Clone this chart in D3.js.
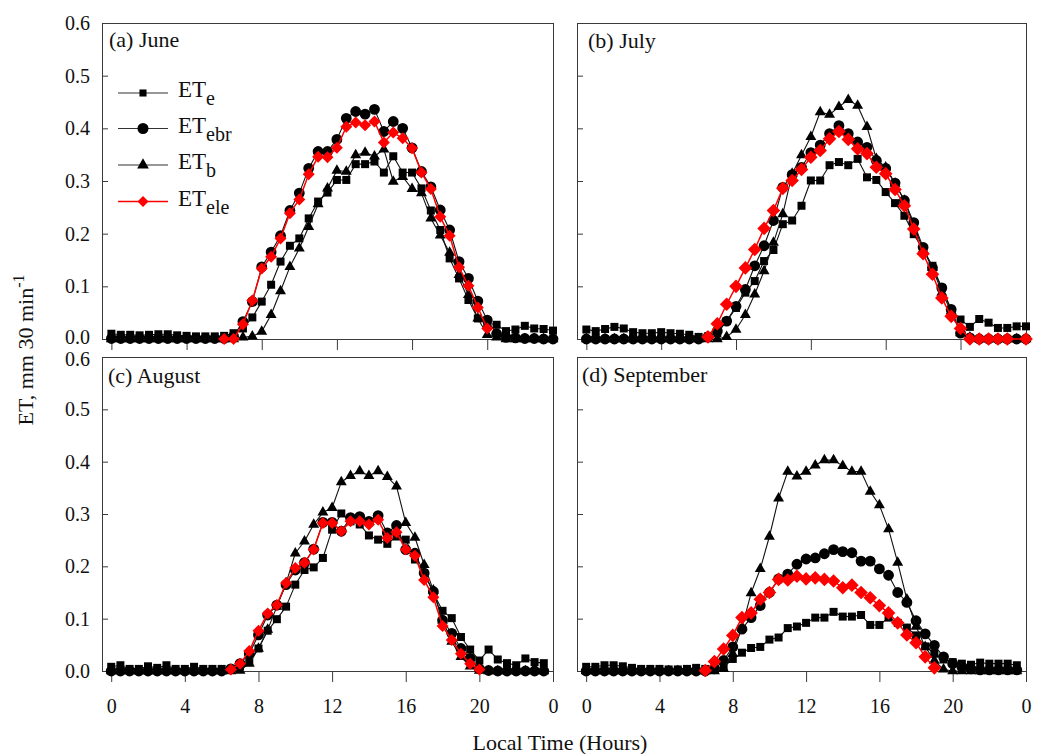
<!DOCTYPE html>
<html>
<head>
<meta charset="utf-8">
<script src="https://cdn.jsdelivr.net/npm/d3@7"></script>
<style>
  html, body { margin: 0; padding: 0; background: #fff; }
  svg { display: block; font-family: "Liberation Serif", "Times New Roman", serif; }
</style>
</head>
<body>
<svg id="chart" width="1037" height="754"></svg>
<script>
// Half-hourly time of day (hours)
const hours = [
  0, 0.5, 1, 1.5, 2, 2.5, 3, 3.5,
  4, 4.5, 5, 5.5, 6, 6.5, 7, 7.5,
  8, 8.5, 9, 9.5, 10, 10.5, 11, 11.5,
  12, 12.5, 13, 13.5, 14, 14.5, 15, 15.5,
  16, 16.5, 17, 17.5, 18, 18.5, 19, 19.5,
  20, 20.5, 21, 21.5, 22, 22.5, 23, 23.5
];

const xTickValues = [0, 4, 8, 12, 16, 20, 24];
const xTickLabels = ["0", "4", "8", "12", "16", "20", "0"];
const yTickValues = [0, 0.1, 0.2, 0.3, 0.4, 0.5, 0.6];

const seriesNames = ["ETe", "ETebr", "ETb", "ETele"];
const seriesSubs  = ["e", "ebr", "b", "ele"];

// June
const junETe = [
  0.010, 0.008, 0.008, 0.007, 0.008, 0.009, 0.009, 0.007,
  0.006, 0.005, 0.005, 0.005, 0.006, 0.011, 0.020, 0.041,
  0.071, 0.103, 0.147, 0.177, 0.191, 0.229, 0.261, 0.278,
  0.302, 0.302, 0.332, 0.332, 0.337, 0.316, 0.347, 0.316,
  0.316, 0.286, 0.244, 0.207, 0.153, 0.115, 0.074, 0.039,
  0.030, 0.027, 0.015, 0.018, 0.025, 0.020, 0.019, 0.016
];
const junETebr = [
  0.001, 0.001, 0.001, 0.001, 0.001, 0.001, 0.001, 0.001,
  0.001, 0.001, 0.001, 0.001, 0.001, 0.005, 0.033, 0.071,
  0.137, 0.165, 0.196, 0.244, 0.277, 0.324, 0.356, 0.356,
  0.379, 0.419, 0.432, 0.427, 0.436, 0.394, 0.413, 0.400,
  0.363, 0.318, 0.289, 0.245, 0.207, 0.147, 0.115, 0.072,
  0.036, 0.010, 0.003, 0.002, 0.001, 0.001, 0.000, 0.000
];
const junETb = [
  0, 0, 0, 0, 0, 0, 0, 0,
  0, 0, 0, 0, 0, 0, 0.003, 0.005,
  0.014, 0.046, 0.091, 0.137, 0.172, 0.213, 0.256, 0.286,
  0.320, 0.318, 0.349, 0.354, 0.347, 0.360, 0.299, 0.308,
  0.285, 0.277, 0.229, 0.197, 0.164, 0.122, 0.084, 0.039,
  0.008, 0.003, 0, 0, 0, 0, 0, 0
];
const junETele = [
  null, null, null, null, null, null, null, null,
  null, null, null, null, 0.000, 0.000, 0.028, 0.073,
  0.134, 0.156, 0.191, 0.239, 0.265, 0.313, 0.346, 0.345,
  0.363, 0.403, 0.411, 0.406, 0.413, 0.373, 0.392, 0.381,
  0.362, 0.316, 0.285, 0.232, 0.196, 0.136, 0.101, 0.060,
  0.020, null, null, null, null, null, null, null
];

// July
const julETe = [
  0.018, 0.015, 0.019, 0.023, 0.020, 0.013, 0.011, 0.011,
  0.013, 0.011, 0.010, 0.008, 0.004, 0.005, 0.011, 0.034,
  0.059, 0.088, 0.110, 0.148, 0.169, 0.218, 0.225, 0.253,
  0.301, 0.301, 0.330, 0.336, 0.330, 0.342, 0.307, 0.302,
  0.279, 0.258, 0.234, 0.199, 0.169, 0.139, 0.097, 0.056,
  0.037, 0.023, 0.038, 0.031, 0.021, 0.021, 0.024, 0.024
];
const julETebr = [
  0, 0, 0, 0, 0, 0, 0, 0,
  0, 0, 0, 0, 0, 0.004, 0.015, 0.034,
  0.062, 0.094, 0.139, 0.177, 0.225, 0.288, 0.312, 0.326,
  0.354, 0.368, 0.390, 0.405, 0.390, 0.374, 0.364, 0.339,
  0.324, 0.296, 0.263, 0.221, 0.174, 0.135, 0.097, 0.056,
  0.011, 0.002, 0, 0, 0, 0, 0, 0
];
const julETb = [
  0, 0, 0, 0, 0, 0, 0, 0,
  0, 0, 0, 0, 0, 0, 0, 0.004,
  0.018, 0.046, 0.085, 0.129, 0.183, 0.237, 0.314, 0.349,
  0.384, 0.431, 0.426, 0.441, 0.454, 0.443, 0.403, 0.342,
  0.326, 0.295, 0.263, 0.215, 0.170, 0.135, 0.088, 0.053,
  0.011, 0.003, 0, 0, 0, 0, 0, 0
];
const julETele = [
  null, null, null, null, null, null, null, null,
  null, null, null, null, null, 0.004, 0.029, 0.066,
  0.100, 0.135, 0.170, 0.210, 0.244, 0.286, 0.301, 0.322,
  0.345, 0.358, 0.380, 0.394, 0.379, 0.361, 0.352, 0.326,
  0.314, 0.284, 0.253, 0.209, 0.162, 0.123, 0.078, 0.043,
  0.020, 0.000, 0.000, 0.000, 0.000, 0.000, null, 0.000
];

// August
const augETe = [
  0.008, 0.011, 0.004, 0.004, 0.009, 0.006, 0.011, 0.004,
  0.004, 0.008, 0.004, 0.004, 0.004, 0.004, 0.009, 0.017,
  0.043, 0.077, 0.099, 0.123, 0.165, 0.193, 0.198, 0.216,
  0.270, 0.301, 0.286, 0.280, 0.259, 0.251, 0.243, 0.257,
  0.251, 0.213, 0.187, 0.149, 0.115, 0.101, 0.065, 0.041,
  0.020, 0.041, 0.022, 0.015, 0.011, 0.024, 0.017, 0.015
];
const augETebr = [
  0, 0, 0, 0, 0, 0, 0, 0,
  0, 0, 0, 0, 0, 0.004, 0.014, 0.033,
  0.069, 0.107, 0.126, 0.165, 0.193, 0.207, 0.233, 0.284,
  0.284, 0.267, 0.293, 0.295, 0.286, 0.297, 0.264, 0.278,
  0.232, 0.225, 0.187, 0.152, 0.097, 0.072, 0.043, 0.024,
  0.004, 0.001, 0, 0, 0, 0, 0, 0
];
const augETb = [
  0, 0, 0, 0, 0, 0, 0, 0,
  0, 0, 0, 0, 0, 0, 0.001, 0.014,
  0.043, 0.079, 0.123, 0.168, 0.225, 0.248, 0.280, 0.303,
  0.312, 0.361, 0.373, 0.382, 0.373, 0.382, 0.371, 0.353,
  0.283, 0.255, 0.203, 0.154, 0.097, 0.056, 0.027, 0.009,
  0.001, 0, 0, 0, 0, 0, 0, 0
];
const augETele = [
  null, null, null, null, null, null, null, null,
  null, null, null, null, null, 0.003, 0.014, 0.038,
  0.077, 0.110, 0.126, 0.168, 0.197, 0.207, 0.232, 0.283,
  0.283, 0.267, 0.286, 0.286, 0.280, 0.289, 0.254, 0.265,
  0.232, 0.220, 0.174, 0.141, 0.086, 0.059, 0.033, 0.014,
  0.003, null, null, null, null, null, null, null
];

// September
const sepETe = [
  0.008, 0.008, 0.011, 0.011, 0.009, 0.006, 0.004, 0.004,
  0.004, 0.003, 0.003, 0.004, 0.006, 0.004, 0.004, 0.008,
  0.023, 0.035, 0.044, 0.046, 0.060, 0.064, 0.082, 0.085,
  0.092, 0.102, 0.102, 0.113, 0.104, 0.104, 0.107, 0.088,
  0.088, 0.102, 0.092, 0.083, 0.068, 0.047, 0.033, 0.022,
  0.017, 0.014, 0.012, 0.016, 0.014, 0.014, 0.014, 0.011
];
const sepETebr = [
  0, 0, 0, 0, 0, 0, 0, 0,
  0, 0, 0, 0, 0, 0, 0.004, 0.020,
  0.046, 0.080, 0.102, 0.125, 0.150, 0.176, 0.185, 0.204,
  0.214, 0.216, 0.224, 0.232, 0.228, 0.226, 0.210, 0.210,
  0.195, 0.183, 0.150, 0.131, 0.096, 0.071, 0.049, 0.027,
  0.014, 0.008, 0.004, 0.002, 0.002, 0.002, 0.002, 0.002
];
const sepETb = [
  0, 0, 0, 0, 0, 0, 0, 0,
  0, 0, 0, 0, 0, 0, 0, 0.004,
  0.033, 0.083, 0.149, 0.195, 0.257, 0.330, 0.381, 0.372,
  0.381, 0.393, 0.403, 0.403, 0.392, 0.381, 0.381, 0.343,
  0.317, 0.271, 0.207, 0.137, 0.085, 0.046, 0.020, 0.003,
  0, 0, 0, 0, 0, 0, 0, 0
];
const sepETele = [
  null, null, null, null, null, null, null, null,
  null, null, null, null, null, 0.001, 0.018, 0.042,
  0.068, 0.102, 0.111, 0.137, 0.150, 0.175, 0.174, 0.181,
  0.176, 0.178, 0.175, 0.172, 0.159, 0.164, 0.150, 0.140,
  0.125, 0.111, 0.092, 0.069, 0.054, 0.027, 0.006, null,
  null, null, null, null, null, null, null, null
];

const panelLabels = ["(a) June", "(b) July", "(c) August", "(d) September"];
const panelSeries = [
  [junETe, junETebr, junETb, junETele],
  [julETe, julETebr, julETb, julETele],
  [augETe, augETebr, augETb, augETele],
  [sepETe, sepETebr, sepETb, sepETele]
];

// ---- layout ----
// yEdgeShift: small nudge of the 0.0 / 0.6 labels where two panels meet
const frames = [
  { left: 102, right: 553,  top: 23,  bottom: 339, xMax: 23.5, xLabels: false, yLabels: true,  labelDx: 7,  labelDy: 24, diamond: 6.0, lowShift: -2, highShift: 0 },
  { left: 577, right: 1026, top: 23,  bottom: 339, xMax: 23.5, xLabels: false, yLabels: false, labelDx: 11, labelDy: 25, diamond: 6.8, lowShift: 0,  highShift: 0 },
  { left: 102, right: 553,  top: 357, bottom: 671, xMax: 24,   xLabels: true,  yLabels: true,  labelDx: 6,  labelDy: 26, diamond: 6.0, lowShift: 0,  highShift: 2 },
  { left: 577, right: 1026, top: 357, bottom: 671, xMax: 24,   xLabels: true,  yLabels: false, labelDx: 5,  labelDy: 25, diamond: 6.8, lowShift: 0,  highShift: 0 }
];

const axisColor = "#3a3a3a";
const red = "#ff0000";

const diamondType = {
  draw(context, size) {
    const r = Math.sqrt(size / 2);
    context.moveTo(0, -r);
    context.lineTo(r, 0);
    context.lineTo(0, r);
    context.lineTo(-r, 0);
    context.closePath();
  }
};

const styles = [
  { type: d3.symbolSquare,   size: 64,  color: "#000", lineColor: "#111", lineWidth: 1.1 },
  { type: d3.symbolCircle,   size: 92,  color: "#000", lineColor: "#111", lineWidth: 1.1 },
  { type: d3.symbolTriangle, size: 52,  color: "#000", lineColor: "#111", lineWidth: 1.1 },
  { type: diamondType,       size: null, color: red,   lineColor: red,    lineWidth: 1.5 }
];

const svg = d3.select("#chart");

frames.forEach((f, pi) => {
  const x = d3.scaleLinear().domain([-0.5, f.xMax]).range([f.left, f.right]);
  const y = d3.scaleLinear().domain([0, 0.6]).range([f.bottom, f.top]);
  const g = svg.append("g");

  // bottom axis: outward ticks
  const xt = xTickValues.filter(v => v <= f.xMax);
  const xAxis = d3.axisBottom(x)
    .tickValues(xt)
    .tickSizeInner(11).tickSizeOuter(0).tickPadding(17)
    .tickFormat(d => f.xLabels ? xTickLabels[xTickValues.indexOf(d)] : "");
  const gx = g.append("g").attr("transform", `translate(0,${f.bottom})`).call(xAxis);

  // left axis: inward ticks
  const yAxis = d3.axisLeft(y)
    .tickValues(yTickValues)
    .tickSizeInner(-6).tickSizeOuter(0).tickPadding(12)
    .tickFormat(d => f.yLabels ? d3.format(".1f")(d) : "");
  const gy = g.append("g").attr("transform", `translate(${f.left},0)`).call(yAxis);

  [gx, gy].forEach(a => {
    a.attr("font-family", null).attr("font-size", null);
    a.select(".domain").remove();
    a.selectAll(".tick line").attr("stroke", axisColor).attr("stroke-width", 1);
    a.selectAll(".tick text").attr("fill", "#111").style("font-size", "20px");
  });
  gy.selectAll(".tick text")
    .attr("y", d => d === 0 ? f.lowShift : d === 0.6 ? f.highShift : 0);

  // frame
  g.append("rect")
    .attr("x", f.left + 0.5).attr("y", f.top + 0.5)
    .attr("width", f.right - f.left).attr("height", f.bottom - f.top)
    .attr("fill", "none").attr("stroke", axisColor).attr("stroke-width", 1);

  // panel label
  g.append("text")
    .attr("x", f.left + f.labelDx).attr("y", f.top + f.labelDy)
    .style("font-size", "22px").attr("fill", "#111")
    .text(panelLabels[pi]);

  // series
  panelSeries[pi].forEach((vals, si) => {
    const st = styles[si];
    const pts = hours.map((h, i) => ({ h, v: vals[i] })).filter(d => d.v !== null);
    const line = d3.line().x(d => x(d.h)).y(d => y(d.v));
    g.append("path")
      .attr("d", line(pts))
      .attr("fill", "none")
      .attr("stroke", st.lineColor)
      .attr("stroke-width", st.lineWidth)
      .attr("stroke-linejoin", "round");
    const size = st.size === null ? 2 * f.diamond * f.diamond : st.size;
    const sym = d3.symbol().type(st.type).size(size);
    g.append("g").selectAll("path")
      .data(pts)
      .join("path")
      .attr("transform", d => `translate(${x(d.h)},${y(d.v)})`)
      .attr("d", sym)
      .attr("fill", st.color);
  });

  // legend (first panel only)
  if (pi === 0) {
    const lg = g.append("g");
    const rows = [93, 128.5, 165, 201.5];
    seriesNames.forEach((name, si) => {
      const st = styles[si];
      const ry = rows[si];
      lg.append("line")
        .attr("x1", 118).attr("x2", 168).attr("y1", ry).attr("y2", ry)
        .attr("stroke", si === 3 ? red : "#333").attr("stroke-width", si === 3 ? 1.5 : 1.1);
      const lsize = si === 0 ? 50 : si === 1 ? 95 : si === 2 ? 60 : 2 * 5.5 * 5.5;
      lg.append("path")
        .attr("transform", `translate(143,${ry})`)
        .attr("d", d3.symbol().type(st.type).size(lsize))
        .attr("fill", st.color);
      const t = lg.append("text")
        .attr("x", 178).attr("y", ry + 4)
        .attr("fill", "#111")
        .style("font-size", "23px");
      t.append("tspan").text("ET");
      t.append("tspan").attr("dy", 8).style("font-size", "20px").text(seriesSubs[si]);
    });
  }
});

// axis titles
const yt = svg.append("text")
  .attr("transform", "translate(33,350) rotate(-90)")
  .attr("text-anchor", "middle")
  .attr("fill", "#111")
  .style("font-size", "22px");
yt.append("tspan").text("ET, mm 30 min");
yt.append("tspan").attr("dy", -9).style("font-size", "16px").text("-1");

svg.append("text")
  .attr("x", 560).attr("y", 750)
  .attr("text-anchor", "middle")
  .attr("fill", "#111")
  .style("font-size", "22px")
  .text("Local Time (Hours)");
</script>
</body>
</html>
